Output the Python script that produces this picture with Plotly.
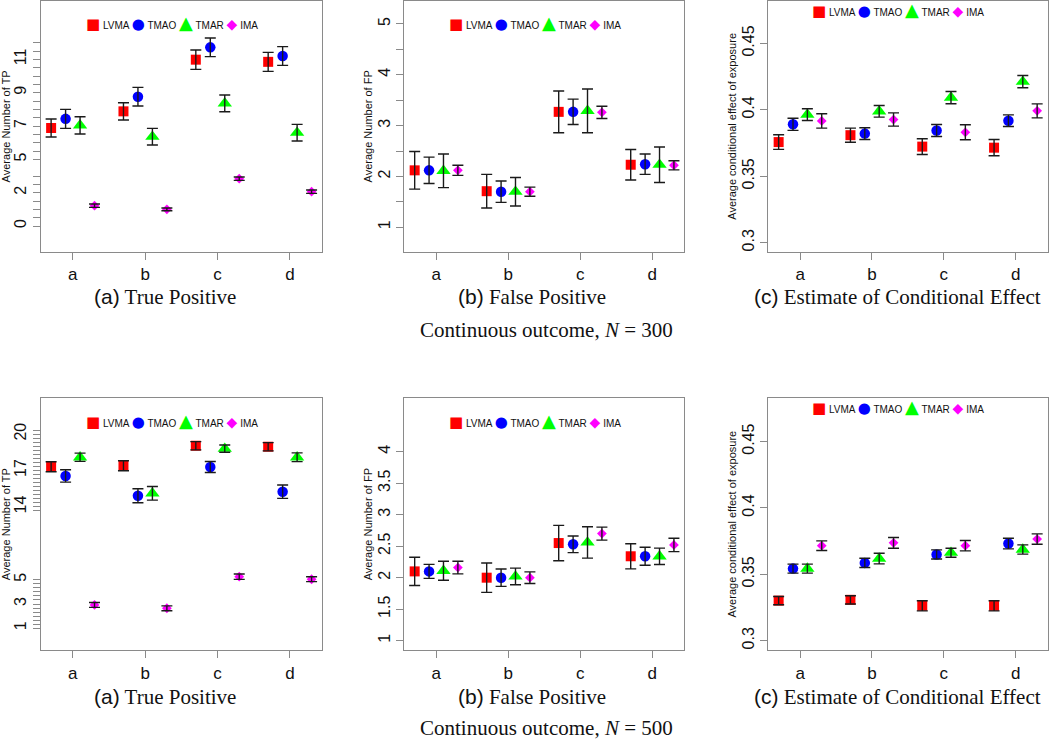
import numpy as np
import plotly.graph_objects as go

# ---------------- data ----------------
CATEGORIES = ["a", "b", "c", "d"]
METHODS = ["LVMA", "TMAO", "TMAR", "IMA"]

# Continuous outcome, N = 300   (rows: LVMA, TMAO, TMAR, IMA; cols: a..d)
TP300_MEAN = [[6.88, 7.88, 10.98, 10.85],
              [7.43, 8.76, 11.72, 11.20],
              [7.04, 6.36, 8.36, 6.60],
              [1.22, 1.00, 2.84, 2.06]]
TP300_ERR = [[0.54, 0.52, 0.58, 0.57],
             [0.57, 0.56, 0.56, 0.56],
             [0.52, 0.50, 0.50, 0.50],
             [0.10, 0.08, 0.10, 0.10]]
FP300_MEAN = [[2.12, 1.71, 3.27, 2.23],
              [2.12, 1.70, 3.27, 2.24],
              [2.11, 1.70, 3.29, 2.23],
              [2.12, 1.70, 3.26, 2.22]]
FP300_ERR = [[0.37, 0.33, 0.41, 0.30],
             [0.26, 0.21, 0.25, 0.20],
             [0.33, 0.28, 0.43, 0.35],
             [0.10, 0.09, 0.12, 0.09]]
CE300_MEAN = [[0.3757, 0.3809, 0.3723, 0.3715],
              [0.3891, 0.3821, 0.3844, 0.3918],
              [0.3964, 0.3989, 0.4092, 0.4212],
              [0.3916, 0.3927, 0.3831, 0.3992]]
CE300_ERR = [[0.0055, 0.0053, 0.0059, 0.0061],
             [0.0046, 0.0044, 0.0045, 0.0044],
             [0.0044, 0.0044, 0.0046, 0.0046],
             [0.0054, 0.0050, 0.0056, 0.0053]]

# Continuous outcome, N = 500
TP500_MEAN = [[17.31, 17.39, 19.04, 18.96],
              [16.55, 14.92, 17.29, 15.25],
              [18.09, 15.12, 18.80, 18.09],
              [2.92, 2.65, 5.25, 5.04]]
TP500_ERR = [[0.41, 0.41, 0.34, 0.34],
             [0.51, 0.58, 0.45, 0.55],
             [0.34, 0.56, 0.30, 0.36],
             [0.20, 0.20, 0.22, 0.20]]
FP500_MEAN = [[2.10, 2.00, 2.55, 2.34],
              [2.10, 2.00, 2.53, 2.34],
              [2.11, 2.02, 2.56, 2.34],
              [2.16, 2.00, 2.70, 2.52]]
FP500_ERR = [[0.225, 0.233, 0.280, 0.200],
             [0.111, 0.138, 0.132, 0.143],
             [0.151, 0.132, 0.249, 0.130],
             [0.100, 0.093, 0.103, 0.106]]
CE500_MEAN = [[0.3302, 0.3308, 0.3263, 0.3263],
              [0.3543, 0.3586, 0.3650, 0.3732],
              [0.3543, 0.3619, 0.3663, 0.3687],
              [0.3716, 0.3737, 0.3716, 0.3766]]
CE500_ERR = [[0.0031, 0.0031, 0.0038, 0.0038],
             [0.0034, 0.0035, 0.0034, 0.0040],
             [0.0034, 0.0040, 0.0034, 0.0035],
             [0.0036, 0.0040, 0.0039, 0.0039]]

# tick labels of the y axes
TP300_TICKS = [0, 2, 5, 7, 9, 11]
FP300_TICKS = [1, 2, 3, 4, 5]
CE_TICKS = [0.3, 0.35, 0.4, 0.45]
TP500_TICKS = [1, 3, 5, 14, 17, 20]
FP500_TICKS = [1, 1.5, 2, 2.5, 3, 3.5, 4]

# ---------------- style ----------------
COLORS = ["#FF0000", "#0000FF", "#00FF00", "#FF00FF"]
SYMBOLS = ["square", "circle", "triangle-up", "diamond"]
SIZES = [10, 10.5, 12.5, 7.5]
GLYPHS = ["\u25A0", "\u25CF", "\u25B2", "\u25C6"]
GLYPH_SIZES = [15, 15, 18, 14]
OFFSETS = [-0.3, -0.1, 0.1, 0.3]
FRAME = "#8a8a8a"
W, H = 1050, 739

# y-axis breaks (gap plots): values inside (lo, hi) are squeezed out
TP300_BREAK = (3.5, 4.5)
TP500_BREAK = (7.0, 10.0)


def squash(v, brk):
    v = np.asarray(v, dtype=float)
    if brk is None:
        return v
    lo, hi = brk
    return np.where(v <= lo, v, np.where(v >= hi, v - (hi - lo), lo))


def px_x(a, b):
    return [a / W, b / W]


def px_y(top, bottom):
    return [1 - bottom / H, 1 - top / H]


COLS = [px_x(40.7, 322.0), px_x(404.3, 684.3), px_x(768.3, 1047.5)]
ROWS = [px_y(1.0, 251.7), px_y(398.3, 650.0)]

PANELS = [
    dict(mean=TP300_MEAN, err=TP300_ERR, ticks=TP300_TICKS, brk=TP300_BREAK,
         minor=np.r_[np.arange(0, 3.01, 0.5), np.arange(5, 12.01, 0.5)],
         yr=[-1.54, 13.5], title="Average Number of TP", col=0, row=0, leg_y=0.916),
    dict(mean=FP300_MEAN, err=FP300_ERR, ticks=FP300_TICKS, brk=None,
         minor=np.arange(1, 5.01, 0.5),
         yr=[0.52, 5.45], title="Average Number of FP", col=1, row=0, leg_y=0.916),
    dict(mean=CE300_MEAN, err=CE300_ERR, ticks=CE_TICKS, brk=None, minor=None,
         yr=[0.2932, 0.4819], title="Average conditional effect of exposure", col=2, row=0, leg_y=0.966),
    dict(mean=TP500_MEAN, err=TP500_ERR, ticks=TP500_TICKS, brk=TP500_BREAK,
         minor=np.r_[np.arange(1, 5.01, 1 / 3), np.arange(13 + 2 / 3, 20.4, 1 / 3)],
         yr=[-0.79, 19.95], title="Average Number of TP", col=0, row=1, leg_y=0.913),
    dict(mean=FP500_MEAN, err=FP500_ERR, ticks=FP500_TICKS, brk=None, minor=None,
         yr=[0.852, 4.848], title="Average Number of FP", col=1, row=1, leg_y=0.913),
    dict(mean=CE500_MEAN, err=CE500_ERR, ticks=CE_TICKS, brk=None, minor=None,
         yr=[0.293, 0.4826], title="Average conditional effect of exposure", col=2, row=1, leg_y=0.966),
]

fig = go.Figure()
layout = dict(width=W, height=H, autosize=False, margin=dict(l=0, r=0, t=0, b=0),
              paper_bgcolor="white", plot_bgcolor="white", showlegend=False,
              font=dict(family="Liberation Sans, Arial, sans-serif", color="#111"))
annotations = []
xpos = np.arange(1, len(CATEGORIES) + 1)

for i, p in enumerate(PANELS):
    k = "" if i == 0 else str(i + 1)
    xa, ya = "x" + k, "y" + k
    # markers first
    for m, name in enumerate(METHODS):
        mean = np.asarray(p["mean"][m], float)
        fig.add_trace(go.Scatter(
            x=xpos + OFFSETS[m], y=squash(mean, p["brk"]), mode="markers", name=name,
            marker=dict(symbol=SYMBOLS[m], size=SIZES[m], color=COLORS[m], line=dict(width=0)),
            xaxis=xa, yaxis=ya, cliponaxis=False, showlegend=False))
    # error bars drawn on top of the markers
    for m, name in enumerate(METHODS):
        mean = np.asarray(p["mean"][m], float)
        err = np.asarray(p["err"][m], float)
        yc = squash(mean, p["brk"])
        up = squash(mean + err, p["brk"]) - yc
        dn = yc - squash(mean - err, p["brk"])
        fig.add_trace(go.Scatter(
            x=xpos + OFFSETS[m], y=yc, mode="markers", name=name,
            marker=dict(size=4, opacity=0),
            error_y=dict(type="data", array=up, arrayminus=dn, symmetric=False,
                         color="#1a1a1a", thickness=1.4, width=5.5),
            xaxis=xa, yaxis=ya, cliponaxis=False, showlegend=False, hoverinfo="skip"))

    layout["xaxis" + k] = dict(
        domain=COLS[p["col"]], anchor=ya, range=[0.556, 4.444],
        tickmode="array", tickvals=xpos, ticktext=CATEGORIES,
        ticks="outside", ticklen=7, tickcolor=FRAME, tickwidth=1.2,
        showline=True, mirror=True, linecolor=FRAME, linewidth=1.3,
        showgrid=False, zeroline=False, tickfont=dict(size=17, color="#111"))
    yaxis = dict(
        domain=ROWS[p["row"]], anchor=xa, range=p["yr"],
        tickmode="array", tickvals=squash(p["ticks"], p["brk"]),
        ticktext=[f"{t:g}" for t in p["ticks"]], tickangle=-90,
        ticks="outside", ticklen=7, tickcolor=FRAME, tickwidth=1.2,
        showline=True, mirror=True, linecolor=FRAME, linewidth=1.3,
        showgrid=False, zeroline=False, tickfont=dict(size=16, color="#111"),
        title=dict(text=p["title"], font=dict(size=11, color="#111"), standoff=0))
    if p["minor"] is not None:
        yaxis["minor"] = dict(tickmode="array", tickvals=squash(p["minor"], p["brk"]),
                              ticks="outside", ticklen=7, tickcolor=FRAME, tickwidth=1.2,
                              showgrid=False)
    layout["yaxis" + k] = yaxis

    # legend row inside each panel
    parts = []
    for m, name in enumerate(METHODS):
        parts.append(f'<span style="font-family:DejaVu Sans;font-size:{GLYPH_SIZES[m]}px;'
                     f'color:{COLORS[m]}">{GLYPHS[m]}</span>'
                     f'<span style="font-size:10px"> {name}</span>')
    annotations.append(dict(text=" ".join(parts), xref=xa + " domain", yref=ya + " domain",
                            x=0.465, y=p["leg_y"], xanchor="center", yanchor="middle",
                            showarrow=False, font=dict(size=10, color="#111")))

# captions
CAPTIONS = ["(a)|True Positive", "(b)|False Positive", "(c)|Estimate of Conditional Effect"]
CAPTION_X = [165, 532, 897]
SUBCAPTIONS = ["Continuous outcome, <i>N</i> = 300", "Continuous outcome, <i>N</i> = 500"]
for r, (cap_y, sub_y) in enumerate([(297, 330), (697, 728)]):
    for c, cap in enumerate(CAPTIONS):
        lab, txt = cap.split("|")
        annotations.append(dict(
            text=f'<span style="font-family:Liberation Sans;font-size:21px">{lab}</span> {txt}',
            xref="paper", yref="paper", x=CAPTION_X[c] / W, y=1 - cap_y / H,
            xanchor="center", yanchor="middle", showarrow=False,
            font=dict(family="Liberation Serif, DejaVu Serif, serif", size=21, color="#111")))
    annotations.append(dict(
        text=SUBCAPTIONS[r], xref="paper", yref="paper", x=546 / W, y=1 - sub_y / H,
        xanchor="center", yanchor="middle", showarrow=False,
        font=dict(family="Liberation Serif, DejaVu Serif, serif", size=21, color="#111")))

layout["annotations"] = annotations
fig.update_layout(**layout)
fig.write_html("out.html", config={"displayModeBar": False},
               post_script="document.body.style.margin='0';document.body.style.overflow='hidden';")
